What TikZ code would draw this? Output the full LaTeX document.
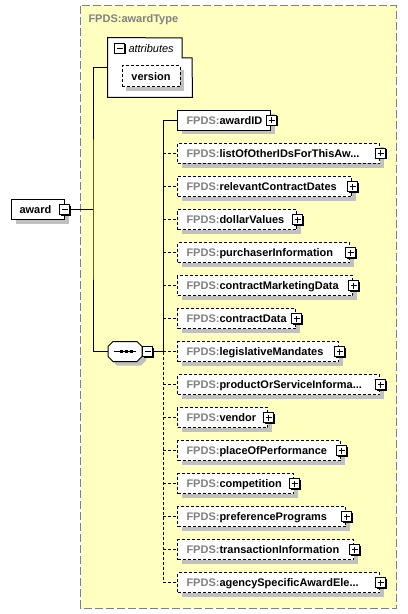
\documentclass[tikz,border=0pt]{standalone}
\usepackage{fontspec}
\setmainfont{Liberation Sans}
\usetikzlibrary{shadows}
\definecolor{bgyellow}{RGB}{255,255,192}
\definecolor{shadowgrey}{RGB}{192,192,192}
\definecolor{framegrey}{RGB}{128,128,128}
\definecolor{prefixgrey}{RGB}{128,128,128}
\newcommand\threedots{...}
\newcommand\lblfont{\fontsize{11bp}{13bp}\selectfont}
\tikzset{
 lbl/.style={font=\lblfont\bfseries, inner sep=0, anchor=base west},
 boxshadow/.style={drop shadow={shadow xshift=4bp, shadow yshift=-4bp, fill=shadowgrey, opacity=1}},
 elembox/.style={draw, fill=white, rectangle, inner sep=0, minimum height=20bp, anchor=west, boxshadow},
 optbox/.style={elembox, dash pattern=on 3bp off 2bp},
 iconbox/.style={draw, fill=white, rectangle, inner sep=0, minimum size=10bp, drop shadow={shadow xshift=1bp, shadow yshift=-1bp, fill=black, opacity=1}},
 minusicon/.style={iconbox, path picture={\draw ([xshift=-3bp]path picture bounding box.center) -- ([xshift=3bp]path picture bounding box.center);}},
 plusicon/.style={iconbox, path picture={\draw ([xshift=-3bp]path picture bounding box.center) -- ([xshift=3bp]path picture bounding box.center); \draw ([yshift=-3bp]path picture bounding box.center) -- ([yshift=3bp]path picture bounding box.center);}},
 optconn/.style={dash pattern=on 3bp off 2bp},
}
\begin{document}
\begin{tikzpicture}[x=1bp,y=-1bp,line width=1bp]
\useasboundingbox (0,0) rectangle (407,614);
% outer type box
\draw[fill=bgyellow, draw=framegrey, dash pattern=on 8bp off 3bp] (80.5,6) rectangle (396.5,608);
\node[lbl, text=prefixgrey] (title) at (88,22.5) {FPDS:awardType};

% award element
\node[elembox, minimum width=53bp] (award) at (11,209.5) {};
\node[lbl] (awardt) at (19,213.5) {award};
\node[minusicon] (awardm) at (64.5,209.5) {};

% attributes
\node[inner sep=0, minimum width=84bp, minimum height=59bp] (attr) at (150,67.5) {};
\filldraw[fill=white] (attr.north west) -- (182,38) -- (182,58) -- (192,58) -- (attr.south east) -- (attr.south west) -- cycle;
\node[minusicon] (attrm) at (119.5,48.5) {};
\node[lbl, font=\lblfont\itshape] (attrt) at (128,52.5) {attributes};
\node[optbox, anchor=center, minimum width=58bp, minimum height=21bp, font=\lblfont\bfseries] (version) at (151,76.5) {version};

% sequence compositor
\coordinate (j1) at (93,209.5);
\node[inner sep=0, minimum width=34bp, minimum height=20bp] (seq) at (125,351.5) {};
\fill[shadowgrey] (112,350.5) -- (117,345.5) -- (141,345.5) -- (146,350.5) -- (146,360.5) -- (141,365.5) -- (117,365.5) -- (112,360.5) -- cycle;
\filldraw[fill=white] (108,346.5) -- (113,341.5) -- (137,341.5) -- (142,346.5) -- (142,356.5) -- (137,361.5) -- (113,361.5) -- (108,356.5) -- cycle;
\draw (114,351.5) -- (136,351.5);
\fill (119.5,350) rectangle (122.5,353);
\fill (124.5,350) rectangle (127.5,353);
\fill (129.5,350) rectangle (132.5,353);
\node[minusicon] (seqm) at (147.5,351.5) {};

\draw (awardm.east) -- (j1);
\draw (attr.west) -| (j1) |- (seq.west);
\coordinate (j2) at (163,351.5);
\draw (seqm.east) -- (j2);

% first (required) child
\coordinate (v0) at (163,120.5);
\node[elembox, minimum width=93bp] (e0) at (177,120.5) {};
\node[lbl] (t0) at (186,124.5) {\textcolor{prefixgrey}{FPDS:}awardID};
\node[plusicon] (p0) at ([xshift=0.5bp]e0.east) {};
\draw (v0) -- (e0.west);

% optional children
\foreach \i/\w/\nm in {
 1/202/listOfOtherIDsForThisAw\threedots,
 2/174/relevantContractDates,
 3/119/dollarValues,
 4/172/purchaserInformation,
 5/175/contractMarketingData,
 6/118/contractData,
 7/161/legislativeMandates,
 8/202/productOrServiceInforma\threedots,
 9/90/vendor,
 10/163/placeOfPerformance,
 11/116/competition,
 12/168/preferencePrograms,
 13/176/transactionInformation,
 14/202/agencySpecificAwardEle\threedots}{
 \pgfmathsetmacro\yc{120.5+33*\i}
 \coordinate (v\i) at (163,\yc);
 \node[optbox, minimum width=\w bp] (e\i) at (177,\yc) {};
 \node[lbl] (t\i) at (186,\yc+4) {\textcolor{prefixgrey}{FPDS:}\nm};
 \node[plusicon] (p\i) at ([xshift=0.5bp]e\i.east) {};
 \draw[optconn] (v\i) -- (e\i.west);
}
\draw (v0) -- (j2);
\draw[optconn] (j2) -- (v14);
\end{tikzpicture}
\end{document}
